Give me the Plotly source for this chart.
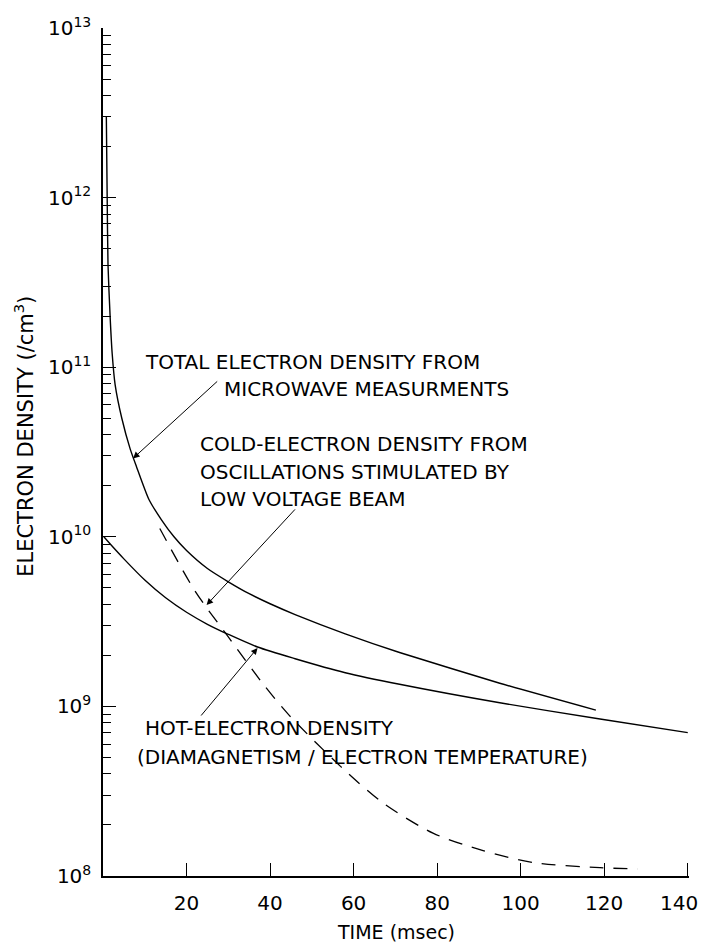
import math
import plotly.graph_objects as go

# ---- data (time in msec, density in /cm^3) ----
total_time = [0.8, 1.0, 1.2, 1.7, 2.2, 2.9, 4.5, 6.5, 8.0, 11.0, 14.0, 17.0, 20.0, 25.0, 30.0, 35.0, 40.0,
              46.0, 58.0, 71.0, 95.0, 118.0]
total_dens = [3.0e12, 1.0e12, 4.0e11, 2.0e11, 1.2e11, 7.9e10, 5.0e10, 3.3e10, 2.6e10, 1.66e10, 1.26e10,
              1.0e10, 8.3e9, 6.5e9, 5.43e9, 4.62e9, 4.03e9, 3.48e9, 2.68e9, 2.08e9, 1.37e9, 9.5e8]

hot_time = [0.2, 2.0, 5.0, 10.0, 15.0, 20.0, 25.0, 30.0, 37.0, 46.0, 58.0, 71.0, 95.0, 119.0, 140.0]
hot_dens = [1.0e10, 8.91e9, 7.41e9, 5.56e9, 4.37e9, 3.59e9, 3.05e9, 2.66e9, 2.24e9, 1.91e9, 1.58e9,
            1.35e9, 1.05e9, 8.43e8, 7.0e8]

cold_time = [13.6, 22.0, 30.0, 38.7, 44.7, 57.0, 67.0, 79.0, 91.0, 103.0, 119.0, 128.0]
cold_dens = [1.12e10, 4.8e9, 2.57e9, 1.32e9, 8.8e8, 4.4e8, 2.7e8, 1.79e8, 1.41e8, 1.2e8, 1.12e8, 1.1e8]

x_tick_vals = [20, 40, 60, 80, 100, 120, 140]
x_tick_text = ["20", "40", "60", "80", "100", "120", "140"]
y_exponents = [8, 9, 10, 11, 12, 13]
minor_mult = [2, 3, 4, 5, 6, 7, 8, 9]

# label texts and their anchor positions (time, density)
labels = [
    ("TOTAL ELECTRON DENSITY FROM", 9.6, 1.07e11),
    ("MICROWAVE MEASURMENTS", 28.4, 7.4e10),
    ("COLD-ELECTRON DENSITY FROM", 22.7, 3.52e10),
    ("OSCILLATIONS STIMULATED BY", 22.7, 2.41e10),
    ("LOW VOLTAGE BEAM", 22.7, 1.67e10),
    ("HOT-ELECTRON DENSITY", 9.6, 7.46e8),
    ("(DIAMAGNETISM / ELECTRON TEMPERATURE)", 7.6, 5.0e8),
]
# arrows: (tip time, tip density, tail time, tail density)
arrows = [
    (7.2, 2.9e10, 27.7, 8.4e10),
    (24.8, 3.96e9, 46.3, 1.48e10),
    (37.0, 2.21e9, 23.2, 8.66e8),
]

FONT = "DejaVu Sans"
INK = "#000000"

fig = go.Figure()
fig.add_trace(go.Scatter(x=total_time, y=total_dens, mode="lines",
                         line=dict(color=INK, width=1.4, shape="spline", smoothing=0.6),
                         showlegend=False, hoverinfo="skip"))
fig.add_trace(go.Scatter(x=hot_time, y=hot_dens, mode="lines",
                         line=dict(color=INK, width=1.4, shape="spline", smoothing=0.8),
                         showlegend=False, hoverinfo="skip"))
fig.add_trace(go.Scatter(x=cold_time, y=cold_dens, mode="lines",
                         line=dict(color=INK, width=1.3, shape="spline", smoothing=0.8, dash="14px,10px"),
                         showlegend=False, hoverinfo="skip"))

annotations = []
for text, t, d in labels:
    annotations.append(dict(x=t, y=math.log10(d), xref="x", yref="y", text=text, showarrow=False,
                            xanchor="left", yanchor="middle",
                            font=dict(family=FONT, size=20, color=INK)))
for tx, ty, sx, sy in arrows:
    annotations.append(dict(x=tx, y=math.log10(ty), ax=sx, ay=math.log10(sy), xref="x", yref="y",
                            axref="x", ayref="y", text="", showarrow=True, arrowhead=2,
                            arrowsize=1.3, arrowwidth=1, arrowcolor=INK, standoff=0, startstandoff=0))
# last x tick label sits flush against the right edge, as in the reference
annotations.append(dict(x=1.0188, y=-0.0318, xref="paper", yref="paper", text=x_tick_text[-1],
                        showarrow=False, xanchor="right", yanchor="middle",
                        font=dict(family=FONT, size=20, color=INK)))
annotations.append(dict(x=0.5, y=-0.0665, xref="paper", yref="paper", text="TIME (msec)", showarrow=False,
                        xanchor="center", yanchor="middle",
                        font=dict(family=FONT, size=19, color=INK)))
annotations.append(dict(x=-0.135, y=0.519, xref="paper", yref="paper", text="ELECTRON DENSITY (/cm<sup>3</sup>)",
                        showarrow=False, textangle=-90, xanchor="center", yanchor="middle",
                        font=dict(family=FONT, size=21, color=INK)))

fig.update_layout(
    width=703, height=944,
    margin=dict(l=103, r=14, t=28, b=68, autoexpand=False),
    paper_bgcolor="white", plot_bgcolor="white",
    annotations=annotations,
    xaxis=dict(range=[0, 140.3], tickvals=x_tick_vals, ticktext=x_tick_text[:-1] + [""],
               ticks="inside", ticklen=13, tickwidth=1.2, tickcolor=INK,
               showline=True, linecolor=INK, linewidth=1.5, showgrid=False, zeroline=False,
               ticklabeloverflow="allow", automargin=False,
               tickfont=dict(family=FONT, size=20, color=INK), ticklabelstandoff=8),
    yaxis=dict(type="log", range=[8, 13],
               tickvals=[10 ** e for e in y_exponents],
               ticktext=["10<sup>%d</sup>" % e for e in y_exponents],
               ticks="inside", ticklen=13, tickwidth=1.2, tickcolor=INK,
               minor=dict(tickvals=[m * 10 ** e for e in y_exponents[:-1] for m in minor_mult],
                          ticks="inside", ticklen=8, tickwidth=1, tickcolor=INK, showgrid=False),
               showline=True, linecolor=INK, linewidth=1.5, showgrid=False, zeroline=False,
               ticklabeloverflow="allow", automargin=False,
               tickfont=dict(family=FONT, size=20, color=INK), ticklabelstandoff=6),
)

fig.write_html("out.html")
